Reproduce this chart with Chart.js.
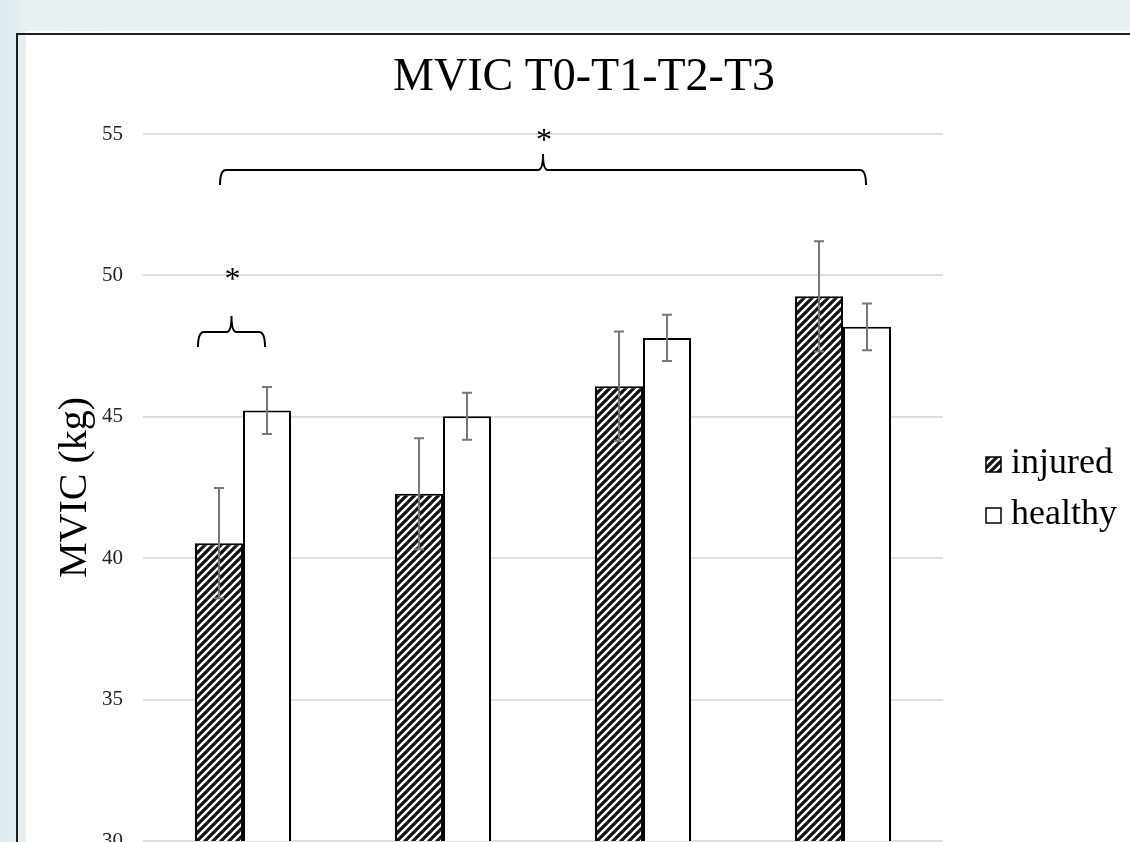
<!DOCTYPE html>
<html>
<head>
<meta charset="utf-8">
<script src="https://cdn.jsdelivr.net/npm/chart.js@4.4.1/dist/chart.umd.min.js"></script>
<style>
  html, body { margin: 0; padding: 0; width: 1130px; height: 842px; overflow: hidden; }
  body { background: linear-gradient(90deg, #dde9ee 0px, #e8f0f3 26px, #e9f1f4 100%); position: relative; }
  #sheet { position: absolute; left: 26px; top: 31px; width: 1104px; height: 811px; background: #fff; }
  #frameTop { position: absolute; left: 16px; top: 33px; width: 1114px; height: 2px; background: #1e1e1e; }
  #frameLeft { position: absolute; left: 16px; top: 33px; width: 2px; height: 809px; background: #1e1e1e; }
  #wrap { position: absolute; left: 38px; top: 0; width: 1092px; height: 882px; }
</style>
</head>
<body>
<div id="sheet"></div>
<div id="frameTop"></div>
<div id="frameLeft"></div>
<div id="wrap"><canvas id="mvicChart" width="1092" height="882"></canvas></div>
<script>
const timepoints = ["T0", "T1", "T2", "T3"];
const injuredMean = [40.53, 42.28, 46.08, 49.26];
const injuredSD = [1.95, 1.96, 1.94, 1.95];
const healthyMean = [45.22, 45.02, 47.79, 48.18];
const healthySD = [0.83, 0.83, 0.82, 0.83];
const yTicks = [30, 35, 40, 45, 50, 55];

// significance braces: x in category units, y in kg
const braces = [
  { from: -0.225, to: 0.11, y: 48.0, star: 50.16 },
  { from: -0.115, to: 3.115, y: 53.73, star: 55.07 }
];

const serif = "'Liberation Serif', 'Times New Roman', serif";

function makeHatch() {
  const c = document.createElement("canvas");
  c.width = 8;
  c.height = 8;
  const g = c.getContext("2d");
  g.fillStyle = "#fff";
  g.fillRect(0, 0, 8, 8);
  g.strokeStyle = "#111";
  g.lineWidth = 3.2;
  g.beginPath();
  g.moveTo(-1, 9); g.lineTo(9, -1);
  g.moveTo(-1, 1); g.lineTo(1, -1);
  g.moveTo(7, 9); g.lineTo(9, 7);
  g.stroke();
  return g.createPattern(c, "repeat");
}

const hatch = makeHatch();

const errorBars = {
  id: "errorBars",
  afterDatasetsDraw(chart) {
    const { ctx } = chart;
    const y = chart.scales.y;
    const sds = [injuredSD, healthySD];
    ctx.save();
    ctx.strokeStyle = "#777";
    ctx.lineWidth = 2;
    chart.data.datasets.forEach((ds, i) => {
      chart.getDatasetMeta(i).data.forEach((bar, j) => {
        const top = y.getPixelForValue(ds.data[j] + sds[i][j]);
        const bot = y.getPixelForValue(ds.data[j] - sds[i][j]);
        ctx.beginPath();
        ctx.moveTo(bar.x, top); ctx.lineTo(bar.x, bot);
        ctx.moveTo(bar.x - 5, top); ctx.lineTo(bar.x + 5, top);
        ctx.moveTo(bar.x - 5, bot); ctx.lineTo(bar.x + 5, bot);
        ctx.stroke();
      });
    });
    ctx.restore();
  }
};

const extras = {
  id: "extras",
  afterDraw(chart) {
    const { ctx } = chart;
    const x = chart.scales.x;
    const y = chart.scales.y;
    ctx.save();
    ctx.fillStyle = "#000";
    ctx.font = "46px " + serif;
    ctx.textAlign = "center";
    ctx.textBaseline = "middle";
    ctx.fillText("MVIC T0-T1-T2-T3", 546, 78);

    ctx.strokeStyle = "#000";
    ctx.lineWidth = 2;
    braces.forEach((b) => {
      const x1 = x.getPixelForValue(b.from);
      const x2 = x.getPixelForValue(b.to);
      const xm = (x1 + x2) / 2;
      const yh = y.getPixelForValue(b.y);
      ctx.beginPath();
      ctx.moveTo(x1, yh + 15);
      ctx.quadraticCurveTo(x1, yh, x1 + 6, yh);
      ctx.lineTo(xm - 5, yh);
      ctx.quadraticCurveTo(xm, yh, xm, yh - 16);
      ctx.quadraticCurveTo(xm, yh, xm + 5, yh);
      ctx.lineTo(x2 - 6, yh);
      ctx.quadraticCurveTo(x2, yh, x2, yh + 15);
      ctx.stroke();
      ctx.font = "32px " + serif;
      ctx.textBaseline = "alphabetic";
      ctx.fillText("*", xm + 1, y.getPixelForValue(b.star) + 18);
    });

    // legend
    ctx.textAlign = "left";
    ctx.font = "36px " + serif;
    const rows = [473, 524];
    chart.data.datasets.forEach((ds, i) => {
      ctx.fillStyle = ds.backgroundColor;
      ctx.fillRect(948, rows[i] - 16, 15, 15);
      ctx.lineWidth = 1.5;
      ctx.strokeStyle = "#000";
      ctx.strokeRect(948, rows[i] - 16, 15, 15);
      ctx.fillStyle = "#000";
      ctx.fillText(ds.label, 973, rows[i]);
    });
    ctx.restore();
  }
};

new Chart(document.getElementById("mvicChart"), {
  type: "bar",
  data: {
    labels: timepoints,
    datasets: [
      {
        label: "injured",
        data: injuredMean,
        backgroundColor: hatch,
        borderColor: "#000",
        borderWidth: 2,
        borderSkipped: "bottom"
      },
      {
        label: "healthy",
        data: healthyMean,
        backgroundColor: "#fff",
        borderColor: "#000",
        borderWidth: 2,
        borderSkipped: "bottom"
      }
    ]
  },
  options: {
    responsive: false,
    animation: false,
    layout: { padding: { left: 0, right: 187, top: 134, bottom: 41 } },
    categoryPercentage: 0.48,
    barPercentage: 1,
    plugins: {
      legend: { display: false },
      title: { display: false },
      tooltip: { enabled: false }
    },
    scales: {
      x: { display: false },
      y: {
        min: 30,
        max: 55,
        afterBuildTicks(scale) {
          scale.ticks = yTicks.map((v) => ({ value: v }));
        },
        afterFit(scale) {
          scale.width = 105;
        },
        border: { display: false },
        grid: { color: "#dedede", lineWidth: 2, drawTicks: false },
        ticks: { color: "#222", padding: 20, font: { family: serif, size: 21 } },
        title: {
          display: true,
          text: "MVIC (kg)",
          color: "#000",
          padding: { top: 13, bottom: 0 },
          font: { family: serif, size: 40 }
        }
      }
    }
  },
  plugins: [errorBars, extras]
});
</script>
</body>
</html>
